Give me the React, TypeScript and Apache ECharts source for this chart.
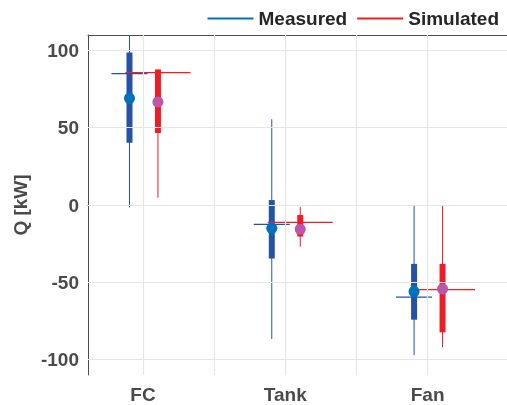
import React, { useEffect, useRef } from "react";
import * as echarts from "echarts";

const categories = ["FC", "Tank", "Fan"];
const positions = [1, 2, 3];
const xGridValues = [1, 1.5, 2, 2.5, 3];
const yTickValues = [-100, -50, 0, 50, 100];

const measuredWhiskerLow = [-1.5, -86.7, -97.2];
const measuredWhiskerHigh = [110, 55.5, 0];
const measuredBoxLow = [40.2, -34.6, -74.2];
const measuredBoxHigh = [98.7, 3.2, -38.1];
const measuredMean = [69, -15, -55.9];
const measuredRef = [85, -12.5, -59.6];

const simulatedWhiskerLow = [4.7, -26.9, -92];
const simulatedWhiskerHigh = [87.7, -1.3, -0.6];
const simulatedBoxLow = [46.6, -20.4, -82.4];
const simulatedBoxHigh = [87.7, -6.5, -38.1];
const simulatedMean = [66.6, -15.7, -54.4];
const simulatedRef = [85.6, -11.2, -54.8];

const FONT = "'Liberation Sans', Arial, sans-serif";

function makeRender(offset: number, color: string, halfRef: number) {
  return (params: any, api: any) => {
    const x = api.value(0) + offset;
    const top = api.coord([x, api.value(2)]);
    const bot = api.coord([x, api.value(1)]);
    const bTop = api.coord([x, api.value(4)]);
    const bBot = api.coord([x, api.value(3)]);
    const ref = api.coord([x, api.value(5)]);
    const cs = params.coordSys;
    return {
      type: "group",
      clipPath: { type: "rect", shape: { x: cs.x, y: cs.y, width: cs.width, height: cs.height } },
      children: [
        {
          type: "line",
          shape: { x1: top[0], y1: top[1], x2: bot[0], y2: bot[1] },
          style: { stroke: color, lineWidth: 1 },
        },
        {
          type: "rect",
          shape: { x: bTop[0] - 3, y: bTop[1], width: 6, height: bBot[1] - bTop[1] },
          style: { fill: color },
        },
        {
          type: "line",
          shape: { x1: ref[0] - halfRef, y1: ref[1], x2: ref[0] + halfRef, y2: ref[1] },
          style: { stroke: color, lineWidth: 1.2 },
        },
      ],
    };
  };
}

export default function App() {
  const ref = useRef<HTMLDivElement>(null);
  useEffect(() => {
    const chart = echarts.init(ref.current!, null, { renderer: "svg" });
    const mData = positions.map((p, i) => [p, measuredWhiskerLow[i], measuredWhiskerHigh[i], measuredBoxLow[i], measuredBoxHigh[i], measuredRef[i]]);
    const sData = positions.map((p, i) => [p, simulatedWhiskerLow[i], simulatedWhiskerHigh[i], simulatedBoxLow[i], simulatedBoxHigh[i], simulatedRef[i]]);
    const axisLineStyle = { color: "#4d4d4d", width: 1 };
    chart.setOption({
      animation: false,
      grid: { left: 88, top: 35, right: 0, bottom: 30 },
      legend: {
        top: 4,
        right: 3,
        itemWidth: 46,
        itemHeight: 2,
        itemGap: 10,
        textStyle: { fontFamily: FONT, fontWeight: "bold", fontSize: 19, color: "#262626" },
        data: [
          { name: "Measured", icon: "rect", itemStyle: { color: "#0072BD" } },
          { name: "Simulated", icon: "rect", itemStyle: { color: "#EE1C25" } },
        ],
      },
      xAxis: [
        {
          type: "value",
          min: 0.6135,
          max: 3.558,
          position: "bottom",
          axisLine: { show: true, lineStyle: axisLineStyle },
          axisTick: { show: true, inside: true, length: 5, customValues: xGridValues, lineStyle: axisLineStyle },
          axisLabel: {
            customValues: positions,
            formatter: (v: number) => categories[positions.indexOf(Math.round(v))] ?? "",
            fontFamily: FONT,
            fontWeight: "bold",
            fontSize: 19,
            color: "#4a4a4a",
            margin: 10,
          },
          splitLine: { show: false },
        },
        {
          type: "value",
          min: 0.6135,
          max: 3.558,
          position: "top",
          axisLine: { show: true, lineStyle: axisLineStyle },
          axisTick: { show: true, inside: true, length: 5, customValues: xGridValues, lineStyle: axisLineStyle },
          axisLabel: { show: false },
          splitLine: { show: false },
        },
      ],
      yAxis: {
        type: "value",
        min: -110,
        max: 110,
        name: "Q [kW]",
        nameLocation: "middle",
        nameGap: 53,
        nameTextStyle: { fontFamily: FONT, fontWeight: "bold", fontSize: 19, color: "#4a4a4a" },
        axisLine: { show: true, lineStyle: axisLineStyle },
        axisTick: { show: true, inside: true, length: 5, customValues: yTickValues, lineStyle: axisLineStyle },
        axisLabel: {
          customValues: yTickValues,
          fontFamily: FONT,
          fontWeight: "bold",
          fontSize: 19,
          color: "#4a4a4a",
          margin: 9,
        },
        splitLine: { show: false },
      },
      series: [
        {
          type: "scatter",
          data: [],
          silent: true,
          markLine: {
            silent: true,
            symbol: "none",
            label: { show: false },
            lineStyle: { color: "#e6e6e6", width: 1.2, type: "solid" },
            data: [
              ...xGridValues.map((v) => ({ xAxis: v })),
              ...yTickValues.map((v) => ({ yAxis: v })),
            ],
          },
        },
        {
          name: "Measured",
          type: "custom",
          renderItem: makeRender(-0.095, "#2453A6", 18),
          data: mData,
          encode: { x: 0, y: [1, 2, 3, 4, 5] },
          z: 3,
        },
        {
          name: "Simulated",
          type: "custom",
          renderItem: makeRender(0.105, "#EE1C25", 32.5),
          data: sData,
          encode: { x: 0, y: [1, 2, 3, 4, 5] },
          z: 4,
        },
        {
          type: "scatter",
          symbolSize: 11,
          itemStyle: { color: "#0072BD", opacity: 1 },
          data: positions.map((p, i) => [p - 0.095, measuredMean[i]]),
          z: 5,
        },
        {
          type: "scatter",
          symbolSize: 11,
          itemStyle: { color: "#BD55A8", opacity: 1 },
          data: positions.map((p, i) => [p + 0.105, simulatedMean[i]]),
          z: 5,
        },
      ],
    });
    return () => chart.dispose();
  }, []);
  return <div ref={ref} style={{ position: "fixed", left: 0, top: 0, width: 507, height: 405 }} />;
}
